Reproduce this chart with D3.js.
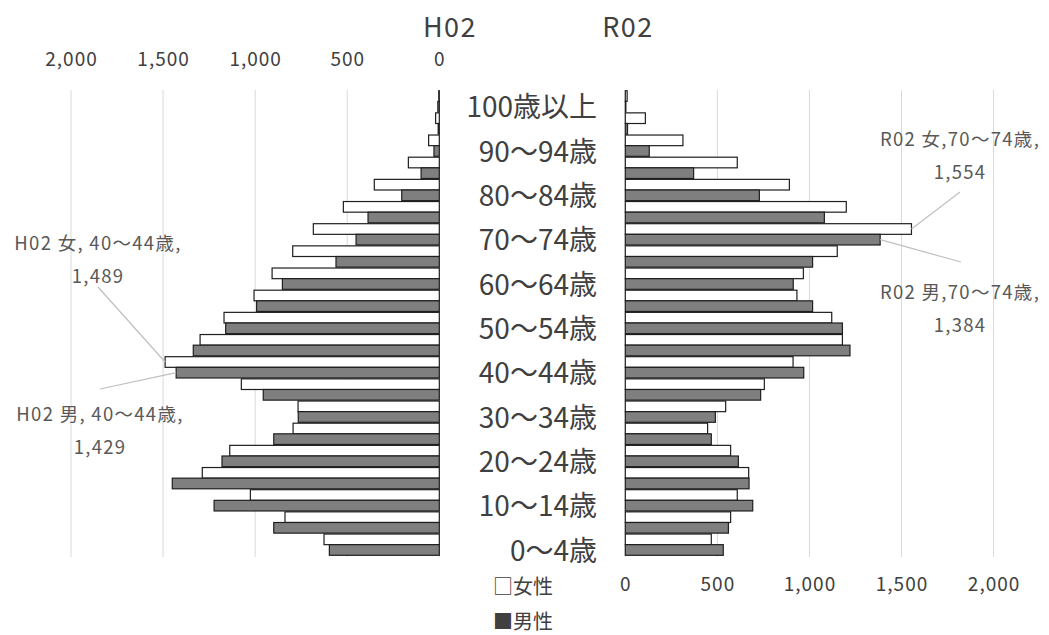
<!DOCTYPE html>
<html>
<head>
<meta charset="utf-8">
<script src="https://cdn.jsdelivr.net/npm/d3@7"></script>
<style>
	body { margin: 0; background: #fff; }
	svg text { font-family: "Noto Sans CJK JP", "Noto Sans", sans-serif; fill: #404040; }
</style>
</head>
<body>
<svg id="chart" width="1049" height="635"></svg>
<script>
// Age groups, bottom (0-4) to top (100+).
var ageGroups = ['0〜4歳', '5〜9歳', '10〜14歳', '15〜19歳', '20〜24歳', '25〜29歳', '30〜34歳',
	'35〜39歳', '40〜44歳', '45〜49歳', '50〜54歳', '55〜59歳', '60〜64歳', '65〜69歳', '70〜74歳',
	'75〜79歳', '80〜84歳', '85〜89歳', '90〜94歳', '95〜99歳', '100歳以上'];

// H02 (left side).
var h02Female = [626, 838, 1026, 1287, 1138, 794, 767, 1075, 1489, 1299, 1169, 1006, 908, 796, 684, 521, 353, 168, 58, 20, 3];
var h02Male = [597, 899, 1223, 1450, 1180, 899, 766, 956, 1429, 1336, 1160, 992, 852, 561, 452, 387, 204, 99, 29, 6, 8];

// R02 (right side).
var r02Female = [467, 572, 608, 670, 572, 447, 545, 755, 911, 1179, 1121, 932, 967, 1151, 1554, 1200, 891, 608, 313, 109, 10];
var r02Male = [532, 560, 692, 672, 614, 467, 489, 735, 969, 1220, 1179, 1017, 912, 1017, 1384, 1081, 728, 371, 130, 12, 3];

var tickValues = [0, 500, 1000, 1500, 2000];

var svg = d3.select('#chart');
var fmt = d3.format(',');

var xLeft = d3.scaleLinear().domain([0, 2000]).range([439.3, 71]);
var xRight = d3.scaleLinear().domain([0, 2000]).range([625.3, 993.6]);
var y = d3.scaleBand()
	.domain(ageGroups.slice().reverse())
	.range([90.7, 555.3])
	.paddingInner(0.04);
var half = y.bandwidth() / 2;

// Grid lines.
var grid = svg.append('g');
[xLeft, xRight].forEach(function(x) {
	grid.selectAll(null)
		.data(tickValues)
		.enter().append('line')
		.attr('x1', function(d) { return x(d); })
		.attr('x2', function(d) { return x(d); })
		.attr('y1', 90)
		.attr('y2', 557)
		.attr('stroke', '#d9d9d9')
		.attr('stroke-width', 1);
});

// Bars. Female on top of each band, male below.
function drawBars(x, values, isMale, side) {
	svg.append('g').selectAll('rect')
		.data(values)
		.enter().append('rect')
		.attr('x', function(d) { return side === 'left' ? x(d) : x(0); })
		.attr('width', function(d) { return Math.abs(x(d) - x(0)); })
		.attr('y', function(d, i) { return y(ageGroups[i]) + (isMale ? half : 0); })
		.attr('height', half)
		.attr('fill', isMale ? '#7f7f7f' : '#ffffff')
		.attr('stroke', '#1f1f1f')
		.attr('stroke-width', 1.2);
}
drawBars(xLeft, h02Female, false, 'left');
drawBars(xLeft, h02Male, true, 'left');
drawBars(xRight, r02Female, false, 'right');
drawBars(xRight, r02Male, true, 'right');

// Axes: left one on top, right one at the bottom.
var topAxis = svg.append('g')
	.attr('transform', 'translate(0,66)')
	.call(d3.axisTop(xLeft).tickValues(tickValues).tickFormat(fmt).tickSize(0).tickPadding(0));
var bottomAxis = svg.append('g')
	.attr('transform', 'translate(0,577)')
	.call(d3.axisBottom(xRight).tickValues(tickValues).tickFormat(fmt).tickSize(0).tickPadding(0));
[topAxis, bottomAxis].forEach(function(ax) {
	ax.select('.domain').remove();
	ax.selectAll('text')
		.attr('font-family', null)
		.style('font-size', '19px')
		.style('letter-spacing', '1px')
		.style('fill', '#404040');
});
topAxis.selectAll('text').attr('dy', 0);
bottomAxis.selectAll('text').attr('dy', '0.71em');

// Category labels, every other age group.
svg.append('g').selectAll('text')
	.data(ageGroups.filter(function(d, i) { return i % 2 === 0; }))
	.enter().append('text')
	.attr('x', 597)
	.attr('y', function(d) { return y(d) + y.bandwidth() / 2 + 4; })
	.attr('text-anchor', 'end')
	.attr('dominant-baseline', 'central')
	.style('font-size', '28px')
	.text(function(d) { return d; });

// Titles.
svg.append('text').attr('x', 450).attr('y', 37).attr('text-anchor', 'middle')
	.style('font-size', '27px').style('letter-spacing', '1.5px').text('H02');
svg.append('text').attr('x', 628).attr('y', 37).attr('text-anchor', 'middle')
	.style('font-size', '27px').style('letter-spacing', '1.5px').text('R02');

// Legend.
svg.append('text').attr('x', 493).attr('y', 594).style('font-size', '20px').text('□女性');
svg.append('text').attr('x', 493).attr('y', 629).style('font-size', '20px').text('■男性');

// Data callouts.
var i4044 = ageGroups.indexOf('40〜44歳');
var i7074 = ageGroups.indexOf('70〜74歳');
var callouts = [
	{ line1: 'H02 女, 40〜44歳,', value: h02Female[i4044], cx: 98, cy: 250,
		from: [98, 287], to: [xLeft(h02Female[i4044]), y(ageGroups[i4044]) + half / 2] },
	{ line1: 'H02 男, 40〜44歳,', value: h02Male[i4044], cx: 100, cy: 421,
		from: [100, 389], to: [xLeft(h02Male[i4044]), y(ageGroups[i4044]) + half * 1.5] },
	{ line1: 'R02 女,70〜74歳,', value: r02Female[i7074], cx: 960, cy: 146,
		from: [960, 192], to: [xRight(r02Female[i7074]), y(ageGroups[i7074]) + half / 2] },
	{ line1: 'R02 男,70〜74歳,', value: r02Male[i7074], cx: 960, cy: 299,
		from: [961, 262], to: [xRight(r02Male[i7074]), y(ageGroups[i7074]) + half * 1.5] }
];
var callout = svg.append('g').selectAll('g')
	.data(callouts)
	.enter().append('g');
callout.append('line')
	.attr('x1', function(d) { return d.from[0]; })
	.attr('y1', function(d) { return d.from[1]; })
	.attr('x2', function(d) { return d.to[0]; })
	.attr('y2', function(d) { return d.to[1]; })
	.attr('stroke', '#bfbfbf')
	.attr('stroke-width', 1.2);
callout.append('text')
	.attr('x', function(d) { return d.cx; })
	.attr('y', function(d) { return d.cy; })
	.attr('text-anchor', 'middle')
	.style('font-size', '18.5px')
	.style('letter-spacing', '1.3px')
	.style('fill', '#595959')
	.text(function(d) { return d.line1; });
callout.append('text')
	.attr('x', function(d) { return d.cx; })
	.attr('y', function(d) { return d.cy + 33; })
	.attr('text-anchor', 'middle')
	.style('font-size', '18.5px')
	.style('letter-spacing', '1.3px')
	.style('fill', '#595959')
	.text(function(d) { return fmt(d.value); });
</script>
</body>
</html>
